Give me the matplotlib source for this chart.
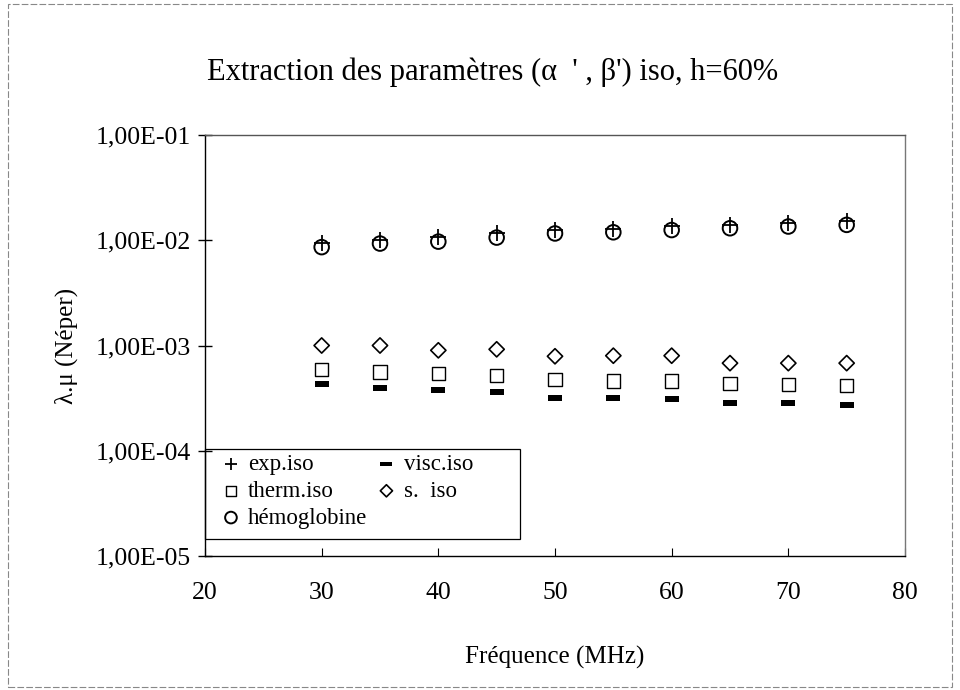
import matplotlib
matplotlib.use("Agg")
import matplotlib.pyplot as plt
from matplotlib.ticker import FixedLocator, FuncFormatter, NullLocator
from matplotlib.patches import Rectangle

plt.rcParams['font.family'] = ['Liberation Serif', 'DejaVu Serif']

freq = [30, 35, 40, 45, 50, 55, 60, 65, 70, 75]
exp_iso = [0.0094, 0.0101, 0.0108, 0.0116, 0.0126, 0.0129, 0.0136, 0.0140, 0.0146, 0.0152]
visc_iso = [4.3e-4, 3.94e-4, 3.75e-4, 3.6e-4, 3.2e-4, 3.2e-4, 3.1e-4, 2.85e-4, 2.85e-4, 2.7e-4]
therm_iso = [5.9e-4, 5.6e-4, 5.4e-4, 5.2e-4, 4.75e-4, 4.6e-4, 4.6e-4, 4.35e-4, 4.25e-4, 4.2e-4]
s_iso = [1.0e-3, 1.0e-3, 0.9e-3, 0.92e-3, 0.79e-3, 0.8e-3, 0.8e-3, 0.68e-3, 0.68e-3, 0.68e-3]
hemoglobine = [0.0086, 0.0093, 0.0097, 0.0106, 0.0116, 0.0119, 0.0125, 0.0130, 0.0135, 0.0140]

yticks = [1e-5, 1e-4, 1e-3, 1e-2, 1e-1]
ytick_labels = ["1,00E-05", "1,00E-04", "1,00E-03", "1,00E-02", "1,00E-01"]
xticks = [20, 30, 40, 50, 60, 70, 80]

W, H = 960, 690
fig = plt.figure(figsize=(9.6, 6.9), dpi=100)
ax_l, ax_r, ax_t, ax_b = 205, 905, 135, 556
ax = fig.add_axes([ax_l / W, 1 - ax_b / H, (ax_r - ax_l) / W, (ax_b - ax_t) / H])
axw, axh = ax_r - ax_l, ax_b - ax_t

bar_marker = [(-1, -0.38), (1, -0.38), (1, 0.38), (-1, 0.38), (-1, -0.38)]

ax.scatter(freq, exp_iso, marker='+', s=130, color='black', linewidths=1.3, label='exp.iso', zorder=3)
ax.scatter(freq, therm_iso, marker='s', s=90, facecolor='none', edgecolor='black', linewidths=1.0, label='therm.iso', zorder=3)
ax.scatter(freq, hemoglobine, marker='o', s=110, facecolor='none', edgecolor='black', linewidths=1.4, label='hémoglobine', zorder=3)
ax.scatter(freq, visc_iso, marker=bar_marker, s=110, color='black', linewidths=0, label='visc.iso', zorder=3)
ax.scatter(freq, s_iso, marker='D', s=60, facecolor='none', edgecolor='black', linewidths=1.2, label='s.  iso', zorder=3)

ax.set_yscale('log')
ax.set_ylim(1e-5, 1e-1)
ax.set_xlim(20, 80)
ax.yaxis.set_major_locator(FixedLocator(yticks))
ax.yaxis.set_minor_locator(NullLocator())
ax.yaxis.set_major_formatter(FuncFormatter(lambda v, p: ytick_labels[yticks.index(min(yticks, key=lambda t: abs(t - v)))]))
ax.xaxis.set_major_locator(FixedLocator(xticks))
ax.tick_params(axis='y', direction='inout', length=10, width=1, labelsize=18.5, pad=5)
ax.tick_params(axis='x', direction='in', length=6, width=0.8, labelsize=18.5, pad=19)
for sp in ax.spines.values():
    sp.set_linewidth(1.0)
    sp.set_color('black')
ax.spines['right'].set_color('#777777')
ax.spines['top'].set_color('#555555')

ax.set_xlabel('Fréquence (MHz)', fontsize=18, labelpad=30)
ax.set_ylabel('λ.μ (Néper)', fontsize=18)
ax.yaxis.set_label_coords((66.5 - ax_l) / axw, 0.5)
ax.yaxis.label.set_verticalalignment('center')

fig.text(492.5 / W, 1 - 80 / H, "Extraction des paramètres (α  ' , β') iso, h=60%",
         fontsize=22, ha='center', va='baseline')

leg = ax.legend(loc='upper left', bbox_to_anchor=((219.5 - ax_l) / axw, (ax_b - 454) / axh),
                borderaxespad=0, ncol=2, fontsize=16.5, frameon=False,
                handletextpad=0.25, columnspacing=0.33, labelspacing=0.25, borderpad=0.0,
                handlelength=1.0, scatterpoints=1, markerscale=0.8)
ax.add_patch(Rectangle((0, (ax_b - 539) / axh), (520 - ax_l) / axw, (539 - 449) / axh,
                       transform=ax.transAxes, fill=False, edgecolor='black', linewidth=0.9,
                       zorder=4, clip_on=False))

fig.patches.append(Rectangle((0.008, 0.004), 0.984, 0.99, transform=fig.transFigure,
                             fill=False, edgecolor='#888888', linewidth=0.8, linestyle=(0, (6, 2))))

fig.savefig('out.png', dpi=100)
